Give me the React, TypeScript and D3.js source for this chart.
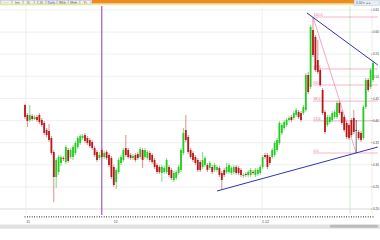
import React, { useEffect } from 'react';
import * as d3 from 'd3';

// candle values (chart points; higher = higher price)
const openV = [104,94,89,93,90,92,94,89,86,79,78,71,57,32,37,46,51,47,59,52,52,56,62,66,71,74,71,69,67,61,57,51,59,52,57,54,51,42,27,37,46,49,61,59,54,51,54,55,52,59,52,51,56,54,49,44,42,36,37,37,42,39,29,31,36,39,56,79,72,59,56,52,49,47,42,44,44,41,42,39,39,41,36,39,37,37,36,37,42,41,39,33,35,34,34,37,34,35,36,42,54,54,52,52,54,59,66,76,81,84,89,92,91,94,97,96,96,99,134,122,179,172,149,139,119,97,84,87,89,92,92,106,97,92,86,84,89,91,79,77,76,71,102,129,122,129];
const closeV = [92,88,94,90,92,89,87,84,76,74,69,56,32,49,52,52,50,62,48,59,62,66,71,73,73,68,66,63,61,54,49,54,52,56,51,44,32,24,39,49,52,59,54,52,51,53,49,51,60,49,59,57,49,47,42,37,37,42,41,49,34,31,36,37,42,59,76,69,57,52,49,46,39,39,49,51,39,46,37,44,42,34,29,34,42,44,41,42,36,36,34,34,34,37,39,36,39,39,42,52,52,42,46,59,66,69,86,84,87,89,91,89,96,99,92,89,102,134,117,182,154,139,137,124,96,77,92,92,96,97,106,96,86,79,72,71,74,77,79,71,69,102,129,119,139,146];
const highV = [105,96,104,95,94,94,96,91,88,81,85,73,59,51,54,54,53,64,61,61,64,68,73,75,75,76,73,71,69,63,59,57,61,58,59,56,53,44,41,51,54,61,74,61,56,55,56,57,62,61,61,59,58,56,51,46,44,44,43,51,44,41,38,39,44,61,81,94,74,61,58,54,51,49,57,53,46,48,44,46,44,43,38,41,46,46,43,44,44,43,41,36,37,39,41,39,41,41,44,54,56,56,54,61,68,71,88,86,89,91,93,94,98,101,99,98,104,136,137,184,192,174,169,141,121,99,94,94,98,99,108,108,99,94,88,86,91,99,89,79,78,104,131,131,141,148];
const lowV = [90,82,87,88,89,87,85,82,74,72,67,54,7,21,34,43,48,45,46,50,49,54,60,64,69,66,64,61,59,52,47,49,50,50,49,42,30,22,20,35,44,47,52,50,49,49,47,49,50,41,50,49,47,45,40,35,35,27,35,35,32,29,27,29,34,37,54,67,55,50,47,44,37,37,40,42,37,39,35,37,37,32,19,32,35,35,34,35,34,34,32,31,32,32,32,34,32,33,34,40,50,40,44,50,52,57,64,74,79,82,87,87,89,92,90,87,94,97,115,120,152,137,135,122,94,75,82,85,87,90,90,94,84,77,70,69,72,75,56,69,67,69,100,117,120,127];

const yTickValues = [0, 22.1, 44.2, 66.3, 88.4, 110.6, 132.7, 154.8, 176.9, 199];
const yTickLabels = ['0.20', '0.25', '0.30', '0.35', '0.40', '0.45', '0.50', '0.55', '0.60', '0.65'];
const xTickIndex = [0.5, 37, 98.8];
const xTickLabels = ['11', '12', '1.12'];
const gridXIndex = [0.4, 98.8];
const markerIndex = 32;
const currentIndex = 135.4;
const fibRatios = [1, 0.618, 0.5, 0.382, 0.236, 0];
const fibLabels = ['100.0', '61.8', '50.0', '38.2', '23.6', '0.0'];
const fibHighIdx = 120;
const fibLowIdx = 138;
const upperTrend: [number, number][] = [[117.5, 196], [147, 144]];
const lowerTrend: [number, number][] = [[80, 18], [147, 62]];
const toolbarLabels = ['·····', 'Intr', '5L', '1.20', 'Daily', 'Wkly', 'Mnth', 'Yr'];

export default function App() {
  useEffect(() => {
    document.body.style.margin = '0';
  }, []);
  const W = 380, H = 240;
  const n = openV.length;
  const x = d3.scaleLinear().domain([0, n - 1]).range([25, 373]);
  const y = d3.scaleLinear().domain([0, 199]).range([209, 10]);
  const line = d3.line<[number, number]>().x(d => x(d[0])).y(d => y(d[1]));
  const fibHigh = highV[fibHighIdx];
  const fibLow = lowV[fibLowIdx];
  const bw = 1.8;
  const green = '#22cc22';
  const red = '#b81818';
  const pink = '#e8709a';
  const font = 'Liberation Sans, Arial, sans-serif';

  return (
    <svg width={W} height={H} style={{ display: 'block', position: 'absolute', left: 0, top: 0, background: '#fff' }} fontFamily={font}>
      <rect x={0} y={0} width={W} height={H} fill="#ffffff" />
      {/* toolbar */}
      <rect x={0} y={0} width={92} height={5} fill="#d6d6d6" />
      {toolbarLabels.map((t, i) => (
        <g key={i}>
          <rect x={1 + i * 11.3} y={0.5} width={10.3} height={4} fill={i === 4 ? '#e8e8f8' : '#f2f2f2'} stroke="#b0b0b0" strokeWidth={0.3} />
          <text x={6 + i * 11.3} y={4} fontSize={3.2} textAnchor="middle" fill={i === 4 ? '#3030c0' : '#444'}>{t}</text>
        </g>
      ))}
      <rect x={92} y={0} width={262} height={3.6} fill="#f08a1c" />
      <rect x={0} y={3.6} width={354} height={1.2} fill="#d9e89a" />
      <rect x={0} y={4.8} width={354} height={0.8} fill="#eef5d0" />
      <rect x={354} y={0} width={25.5} height={5.5} fill="#e4ecf4" stroke="#9ab" strokeWidth={0.3} />
      <text x={356} y={4.2} fontSize={3.3} fill="#557">0.50 ▾ ◂ ▸</text>

      {/* horizontal grid */}
      {yTickValues.map((v, i) => (
        <line key={i} x1={0} x2={372} y1={y(v)} y2={y(v)} stroke={i === 0 ? '#cfcfcf' : '#ebebeb'} strokeWidth={0.8} />
      ))}
      {/* vertical grid */}
      {gridXIndex.map((g, i) => (
        <line key={i} x1={x(g)} x2={x(g)} y1={6} y2={214} stroke="#ececec" strokeWidth={0.8} />
      ))}
      <line x1={x(currentIndex)} x2={x(currentIndex)} y1={6} y2={214} stroke="#bfe6bf" strokeWidth={0.8} />
      <line x1={x(markerIndex)} x2={x(markerIndex)} y1={6} y2={215} stroke="#8a3fa8" strokeWidth={1} />

      {/* right axis */}
      <line x1={372} x2={372} y1={6} y2={214} stroke="#e0e0e0" strokeWidth={0.6} />
      {yTickValues.map((v, i) => (
        <g key={i}>
          <line x1={371} x2={372.5} y1={y(v)} y2={y(v)} stroke="#888" strokeWidth={0.5} />
          <text x={373} y={y(v) + 1.2} fontSize={3} fill="#333">{yTickLabels[i]}</text>
        </g>
      ))}

      {/* fibonacci */}
      <line x1={x(fibHighIdx)} y1={y(fibHigh)} x2={x(fibLowIdx)} y2={y(fibLow)} stroke={pink} strokeWidth={0.6} />
      {fibRatios.map((r, i) => {
        const v = fibLow + (fibHigh - fibLow) * r;
        return (
          <g key={i}>
            <line x1={x(fibHighIdx)} x2={378} y1={y(v)} y2={y(v)} stroke={pink} strokeWidth={0.6} opacity={0.85} />
            <text x={x(fibHighIdx) + 0.5} y={y(v) - 0.8} fontSize={3.6} fill={pink}>{fibLabels[i]}</text>
          </g>
        );
      })}

      {/* candles */}
      {openV.map((o, i) => {
        const c = closeV[i];
        const doji = o === c;
        const col = doji ? '#333333' : c > o ? green : red;
        const top = y(Math.max(o, c));
        const bot = y(Math.min(o, c));
        return (
          <g key={i}>
            <line x1={x(i)} x2={x(i)} y1={y(highV[i])} y2={y(lowV[i])} stroke={doji ? '#333' : c > o ? '#4ad04a' : '#d06060'} strokeWidth={0.7} />
            <rect x={x(i) - bw / 2} y={top} width={bw} height={Math.max(0.8, bot - top)} fill={col} />
          </g>
        );
      })}

      {/* trend lines */}
      <path d={line(upperTrend) || ''} stroke="#3232b4" strokeWidth={1} fill="none" />
      <path d={line(lowerTrend) || ''} stroke="#3232b4" strokeWidth={1} fill="none" />

      {/* bottom axis */}
      {openV.map((_, i) => (
        <rect key={i} x={x(i) - 0.4} y={216} width={0.8} height={1.6} fill="#555" />
      ))}
      {xTickIndex.map((t, i) => (
        <text key={i} x={x(t)} y={222.5} fontSize={3.6} fill="#444">{xTickLabels[i]}</text>
      ))}
      <rect x={0} y={224.5} width={W} height={3.5} fill="#e2e2e2" />
      <rect x={330} y={224.8} width={48} height={3} fill="#bdbdbd" rx={1} />
      <line x1={0} x2={W} y1={228.3} y2={228.3} stroke="#c8c8c8" strokeWidth={0.5} />
    </svg>
  );
}
